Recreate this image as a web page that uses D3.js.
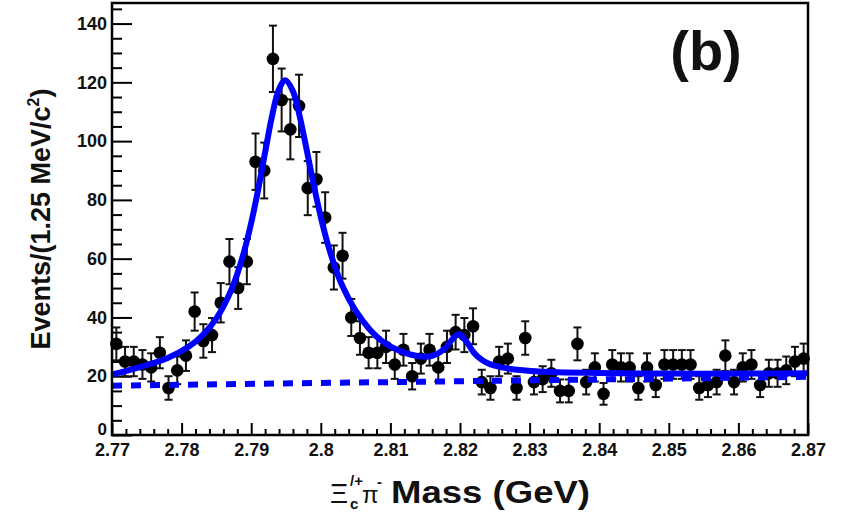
<!DOCTYPE html>
<html><head><meta charset="utf-8">
<script src="https://cdn.jsdelivr.net/npm/d3@7"></script>
<style>html,body{margin:0;padding:0;background:#fff;} svg{display:block;}</style>
</head><body>
<svg id="chart" width="844" height="516"></svg>
<script>
// ---- data ----
const binCenters = [2.770625,2.771875,2.773125,2.774375,2.775625,2.776875,2.778125,2.779375,2.780625,2.781875,
  2.783125,2.784375,2.785625,2.786875,2.788125,2.789375,2.790625,2.791875,2.793125,2.794375,
  2.795625,2.796875,2.798125,2.799375,2.800625,2.801875,2.803125,2.804375,2.805625,2.806875,
  2.808125,2.809375,2.810625,2.811875,2.813125,2.814375,2.815625,2.816875,2.818125,2.819375,
  2.820625,2.821875,2.823125,2.824375,2.825625,2.826875,2.828125,2.829375,2.830625,2.831875,
  2.833125,2.834375,2.835625,2.836875,2.838125,2.839375,2.840625,2.841875,2.843125,2.844375,
  2.845625,2.846875,2.848125,2.849375,2.850625,2.851875,2.853125,2.854375,2.855625,2.856875,
  2.858125,2.859375,2.860625,2.861875,2.863125,2.864375,2.865625,2.866875,2.868125,2.869375];
const counts = [31,25,25,24,23,28,16,22,27,42,
  32,34,45,59,50,59,93,90,128,114,
  104,112,84,87,74,57,61,40,33,28,
  28,30,24,29,20,26,29,23,30,35,
  34,37,18,16,25,26,16,33,18,19,
  21,15,15,31,18,23,14,24,23,23,
  16,23,17,24,24,24,24,16,17,18,
  27,18,23,24,17,21,21,22,25,26];
const errors = [5.6,5.0,5.0,4.9,4.8,5.3,4.0,4.7,5.2,6.5,
  5.7,5.8,6.7,7.7,7.1,7.7,9.6,9.5,11.3,10.7,
  10.2,10.6,9.2,9.3,8.6,7.5,7.8,6.3,5.7,5.3,
  5.3,5.5,4.9,5.4,4.5,5.1,5.4,4.8,5.5,5.9,
  5.8,6.1,4.2,4.0,5.0,5.1,4.0,5.7,4.2,4.4,
  4.6,3.9,3.9,5.6,4.2,4.8,3.7,4.9,4.8,4.8,
  4.0,4.8,4.1,4.9,4.9,4.9,4.9,4.0,4.1,4.2,
  5.2,4.2,4.8,4.9,4.1,4.6,4.6,4.7,5.0,5.1];
// total fit curve
const fitMass  = [2.770,2.774,2.778,2.781,2.783,2.785,2.787,2.788,2.789,2.790,2.791,2.792,2.793,2.794,2.7949,2.796,2.797,2.798,2.799,2.800,2.801,2.802,2.803,2.805,2.807,2.809,2.811,2.813,2.815,2.816,2.817,2.818,2.819,2.8199,2.821,2.822,2.823,2.824,2.826,2.829,2.833,2.840,2.850,2.860,2.870];
const fitValue = [20.6,23.1,26.2,30.0,33.9,39.7,48.6,54.8,62.6,72.2,83.5,96.2,108.6,117.7,120.7,117.0,108.1,96.7,84.9,74.2,65.0,57.5,51.3,42.3,36.0,31.6,29.0,27.3,26.6,26.9,28.0,29.8,32.9,34.4,31.5,28.0,25.8,24.4,23.0,22.0,21.4,21.1,20.9,20.9,21.0];
// background (dashed)
const bkgMass  = [2.770, 2.870];
const bkgValue = [16.8, 19.8];
const xMajorTicks = [2.77,2.78,2.79,2.80,2.81,2.82,2.83,2.84,2.85,2.86,2.87];
const xTickLabels = ["2.77","2.78","2.79","2.8","2.81","2.82","2.83","2.84","2.85","2.86","2.87"];
const yMajorTicks = [0,20,40,60,80,100,120,140];
const yTickLabels = ["0","20","40","60","80","100","120","140"];

// ---- layout ----
const L = 112, R = 808, T = 3, B = 435;
const FONT = "'Liberation Sans', Arial, Helvetica, sans-serif";
const svg = d3.select("#chart");
const x = d3.scaleLinear().domain([2.77, 2.87]).range([L, R]);
const y = d3.scaleLinear().domain([0, 147]).range([B, T]);

// minor ticks
const xMinor = d3.range(0, 51).map(i => 2.77 + i * 0.002).filter(v => !xMajorTicks.some(t => Math.abs(t - v) < 1e-6));
const yMinor = d3.range(0, 30).map(i => i * 5).filter(v => v % 20 !== 0);

const gx = svg.append("g").attr("transform", `translate(0,${B})`);
gx.call(d3.axisBottom(x).tickValues(xMinor).tickSizeInner(-6).tickSizeOuter(0).tickFormat(""));
gx.append("g").call(d3.axisBottom(x).tickValues(xMajorTicks).tickSizeInner(-12).tickSizeOuter(0).tickPadding(8)
  .tickFormat((d, i) => xTickLabels[i]));
const gy = svg.append("g").attr("transform", `translate(${L},0)`);
gy.call(d3.axisLeft(y).tickValues(yMinor).tickSizeInner(-10).tickSizeOuter(0).tickFormat(""));
gy.append("g").call(d3.axisLeft(y).tickValues(yMajorTicks).tickSizeInner(-20).tickSizeOuter(0).tickPadding(5)
  .tickFormat((d, i) => yTickLabels[i]));
svg.selectAll(".domain").remove();
svg.selectAll(".tick line").attr("stroke", "#000").attr("stroke-width", 2);
svg.selectAll(".tick text").attr("fill", "#111").attr("font-family", FONT)
  .attr("font-weight", "bold").attr("font-size", 18);
// lift the "0" label of the y axis a little, as in the reference
gy.selectAll(".tick text").filter(d => d === 0).attr("dy", "-0.05em").attr("font-size", 17);

// data points with error bars
const pts = svg.append("g");
const pd = binCenters.map((m, i) => ({m, c: counts[i], e: errors[i]}));
pts.selectAll("line.eb").data(pd).join("line").attr("class", "eb")
  .attr("x1", d => x(d.m)).attr("x2", d => x(d.m))
  .attr("y1", d => y(d.c - d.e)).attr("y2", d => y(d.c + d.e))
  .attr("stroke", "#111").attr("stroke-width", 2);
pts.selectAll("line.cap1").data(pd).join("line").attr("class", "cap1")
  .attr("x1", d => x(d.m) - 4).attr("x2", d => x(d.m) + 4)
  .attr("y1", d => y(d.c + d.e)).attr("y2", d => y(d.c + d.e))
  .attr("stroke", "#111").attr("stroke-width", 2);
pts.selectAll("line.cap2").data(pd).join("line").attr("class", "cap2")
  .attr("x1", d => x(d.m) - 4).attr("x2", d => x(d.m) + 4)
  .attr("y1", d => y(d.c - d.e)).attr("y2", d => y(d.c - d.e))
  .attr("stroke", "#111").attr("stroke-width", 2);
pts.selectAll("circle").data(pd).join("circle")
  .attr("cx", d => x(d.m)).attr("cy", d => y(d.c)).attr("r", 6.3).attr("fill", "#000");

// background dashed + total fit
const line = d3.line().x(d => x(d[0])).y(d => y(d[1]));
svg.append("path").datum(bkgMass.map((m, i) => [m, bkgValue[i]]))
  .attr("d", line).attr("fill", "none").attr("stroke", "#0000ff")
  .attr("stroke-width", 6).attr("stroke-dasharray", "10,9");
svg.append("path").datum(fitMass.map((m, i) => [m, fitValue[i]]))
  .attr("d", line.curve(d3.curveCatmullRom.alpha(0.5))).attr("fill", "none")
  .attr("stroke", "#0000ff").attr("stroke-width", 6).attr("stroke-linejoin", "round");

// frame
svg.append("rect").attr("x", L).attr("y", T).attr("width", R - L).attr("height", B - T)
  .attr("fill", "none").attr("stroke", "#000").attr("stroke-width", 2.5);

// titles
svg.append("text").attr("transform", `translate(50,219) rotate(-90)`)
  .attr("text-anchor", "middle").attr("font-family", FONT).attr("font-weight", "bold")
  .attr("font-size", 27).attr("fill", "#111")
  .call(t => { t.append("tspan").text("Events/(1.25 MeV/c");
               t.append("tspan").attr("font-size", 16).attr("dy", -11).text("2");
               t.append("tspan").attr("dy", 11).text(")"); });

const xt = svg.append("g").attr("font-family", FONT).attr("fill", "#111");
xt.append("text").attr("x", 330).attr("y", 503).attr("font-size", 28).text("Ξ");
xt.append("text").attr("x", 350).attr("y", 486).attr("font-size", 15).attr("font-weight", "bold").text("/+");
xt.append("text").attr("x", 350).attr("y", 509).attr("font-size", 15).attr("font-weight", "bold").text("c");
xt.append("text").attr("x", 362).attr("y", 503).attr("font-size", 24).text("π");
xt.append("text").attr("x", 377).attr("y", 487).attr("font-size", 15).attr("font-weight", "bold").text("-");
xt.append("text").attr("x", 391).attr("y", 503).attr("font-size", 31).attr("font-weight", "bold")
  .attr("textLength", 199).attr("lengthAdjust", "spacingAndGlyphs").text("Mass (GeV)");

svg.append("text").attr("x", 706).attr("y", 70).attr("text-anchor", "middle")
  .attr("font-family", FONT).attr("font-weight", "bold").attr("font-size", 56).attr("fill", "#111").text("(b)");
</script>
</body></html>
